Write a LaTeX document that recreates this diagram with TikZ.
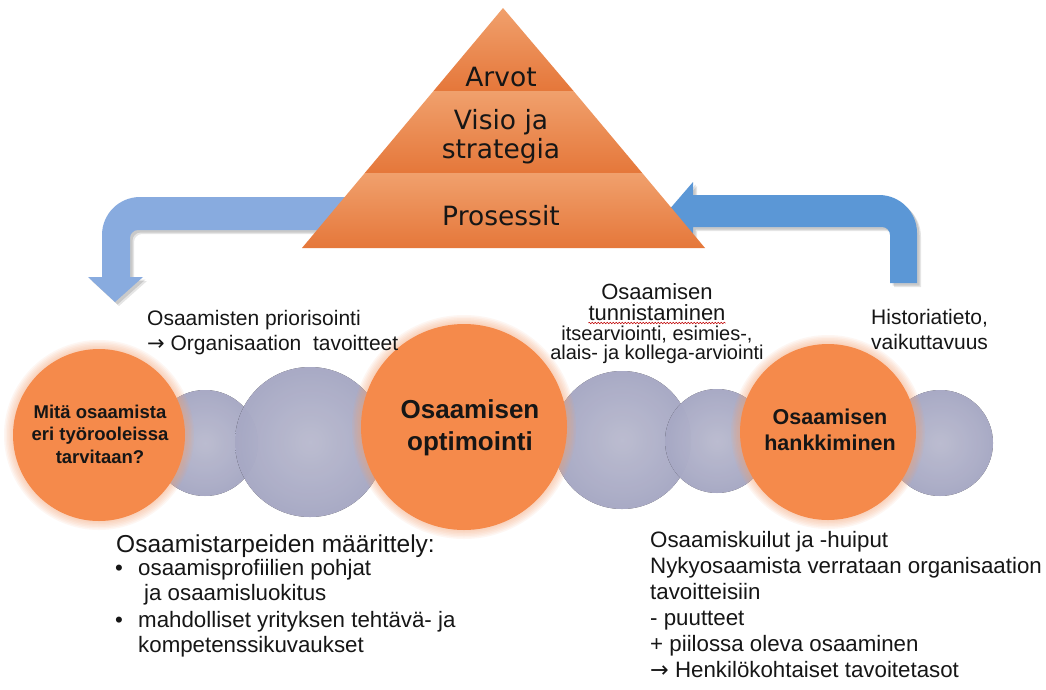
\documentclass[tikz,border=0pt]{standalone}
\usepackage{fontspec}
\setmainfont{Liberation Sans}
\newfontfamily\pyrfont{DejaVu Sans}
\usetikzlibrary{decorations.pathmorphing}
\definecolor{txt}{HTML}{161616}
\definecolor{pylight}{HTML}{F6B586}
\definecolor{pymid}{HTML}{E5773A}
\definecolor{pydark}{HTML}{D45C1E}
\definecolor{bl1}{HTML}{D6D7EE}
\definecolor{bl2}{HTML}{BDBFE0}
\definecolor{bl3}{HTML}{9FA1CE}
\definecolor{orc}{HTML}{F58A4B}
\definecolor{arrL}{HTML}{88ABDF}
\definecolor{arrR}{HTML}{5B97D6}
\pgfdeclareverticalshading{pyrband}{100bp}{color(0bp)=(pydark); color(25bp)=(pymid); color(100bp)=(pylight)}
\pgfdeclareradialshading{bluesphere}{\pgfpointorigin}{color(0bp)=(bl1); color(28bp)=(bl2); color(50bp)=(bl3)}
\tikzset{
  band/.style={shading=pyrband},
  sphere/.style={shading=bluesphere, opacity=0.85},
  orangeball/.style={fill=orc},
  glow/.style={fill=orc!80!white, opacity=0.09},
  pyrtxt/.style={font=\pyrfont\fontsize{26.5}{29}\selectfont, text=txt, inner sep=0, align=center},
  topline/.style={font=\fontsize{21}{25}\selectfont, text=txt, inner sep=0, anchor=base west},
  topctr/.style={font=\fontsize{22}{25}\selectfont, text=txt, inner sep=0, anchor=base},
  smallctr/.style={font=\fontsize{20}{22}\selectfont, text=txt, inner sep=0, anchor=base},
  botline/.style={font=\fontsize{22.3}{26}\selectfont, text=txt, inner sep=0, anchor=base west},
  ballL/.style={font=\bfseries\fontsize{18.5}{22.5}\selectfont, text=txt, align=center, inner sep=0},
  ballM/.style={font=\bfseries\fontsize{26}{32}\selectfont, text=txt, align=center, inner sep=0},
  ballR/.style={font=\bfseries\fontsize{21.5}{26}\selectfont, text=txt, align=center, inner sep=0},
}
\newcommand{\rarr}{{\pyrfont →}}
\begin{document}
\begin{tikzpicture}[x=1pt,y=-1pt]
\useasboundingbox[fill=white] (0,0) rectangle (1046,689);

% ---- left (light blue) arrow with shadow ----
\foreach \s/\o in {4/0.10,2.5/0.12}{
\fill[black, opacity=\o, shift={(\s,\s)}] (350,197) -- (140,197) .. controls (119,197) and (102,214) .. (102,235) -- (102,277) -- (88,277) -- (115,302) -- (143,277) -- (130,277) -- (130,238) .. controls (130,233.6) and (133.6,230) .. (138,230) -- (350,230) -- cycle;
}
\fill[arrL] (350,197) -- (140,197) .. controls (119,197) and (102,214) .. (102,235) -- (102,277) -- (88,277) -- (115,302) -- (143,277) -- (130,277) -- (130,238) .. controls (130,233.6) and (133.6,230) .. (138,230) -- (350,230) -- cycle;

% ---- right (blue) arrow with shadow ----
\foreach \s/\o in {4/0.10,2.5/0.12}{
\fill[black, opacity=\o, shift={(\s,\s)}] (693,195) -- (879,195) .. controls (900,195) and (917,212) .. (917,233) -- (917,283) -- (890,283) -- (890,235) .. controls (890,230.6) and (886.4,227) .. (882,227) -- (693,227) -- (693,240) -- (668,211) -- (693,182) -- cycle;
}
\fill[arrR] (693,195) -- (879,195) .. controls (900,195) and (917,212) .. (917,233) -- (917,283) -- (890,283) -- (890,235) .. controls (890,230.6) and (886.4,227) .. (882,227) -- (693,227) -- (693,240) -- (668,211) -- (693,182) -- cycle;

% ---- pyramid ----
\path[band] (503,8) -- (573.5,91) -- (433.5,91) -- cycle;
\path[band] (433.5,91) -- (573.5,91) -- (642.2,173) -- (364.8,173) -- cycle;
\path[band] (364.8,173) -- (642.2,173) -- (705,248) -- (302,248) -- cycle;
\node[pyrtxt] (arvot) at (501,77) {Arvot};
\node[pyrtxt] (visio) at (501,137) {Visio ja\\strategia};
\node[pyrtxt] (pros) at (501,216) {Prosessit};

% ---- blue spheres ----
\fill[sphere] (205,443) circle (53);
\fill[sphere] (310,442) circle (75);
\fill[sphere] (622,440) circle (69);
\fill[sphere] (717,441) circle (52);
\fill[sphere] (940,443) circle (53);

% ---- orange balls with glow ----
\foreach \cx/\cy/\r in {99/435/86, 464/427/103, 828/432/88}{
  \foreach \g in {1.5,3,4.5,6,7.5,9}{
    \fill[glow] (\cx,\cy) circle ({\r+\g});
  }
  \fill[orangeball] (\cx,\cy) circle (\r);
}
\node[ballL] (mita) at (100,434) {Mitä osaamista\\eri työrooleissa\\tarvitaan?};
\node[ballM] (opt) at (470,428) {Osaamisen\\optimointi};
\node[ballR] (hank) at (830,430) {Osaamisen\\hankkiminen};

% ---- top texts ----
\node[topline] (pr1) at (147,325) {Osaamisten priorisointi};
\node[topline] (pr2) at (147,350) {\rarr\ Organisaation\ \ tavoitteet};

\node[topctr] (tu1) at (657,299) {Osaamisen};
\node[topctr] (tu2) at (657,320) {tunnistaminen};
\node[smallctr] (tu3) at (657,340) {itsearviointi, esimies-,};
\node[smallctr] (tu4) at (657,359) {alais- ja kollega-arviointi};
\draw[red!75!black, line width=0.5pt, decorate, decoration={snake, amplitude=0.7pt, segment length=3pt}]
  ([yshift=-3pt]tu2.base west) -- ([yshift=-3pt]tu2.base east);

\node[topline] (hi1) at (871,324) {Historiatieto,};
\node[topline] (hi2) at (871,349) {vaikuttavuus};

% ---- bottom left ----
\node[botline, font=\fontsize{24.5}{26}\selectfont] (bl1) at (116,552) {Osaamistarpeiden määrittely:};
\node[botline] (bb1) at (115,575) {•};
\node[botline] (bl2) at (138,575) {osaamisprofiilien pohjat};
\node[botline] (bl3) at (144,600) {ja osaamisluokitus};
\node[botline] (bb2) at (115,627) {•};
\node[botline] (bl4) at (138,627) {mahdolliset yrityksen tehtävä- ja};
\node[botline] (bl5) at (138,652) {kompetenssikuvaukset};

% ---- bottom right ----
\node[botline] (br1) at (650,547) {Osaamiskuilut ja -huiput};
\node[botline] (br2) at (650,573) {Nykyosaamista verrataan organisaation};
\node[botline] (br3) at (650,599) {tavoitteisiin};
\node[botline] (br4) at (650,625) {- puutteet};
\node[botline] (br5) at (650,651) {+ piilossa oleva osaaminen};
\node[botline] (br6) at (650,677) {\rarr\ Henkilökohtaiset tavoitetasot};
\end{tikzpicture}
\end{document}
